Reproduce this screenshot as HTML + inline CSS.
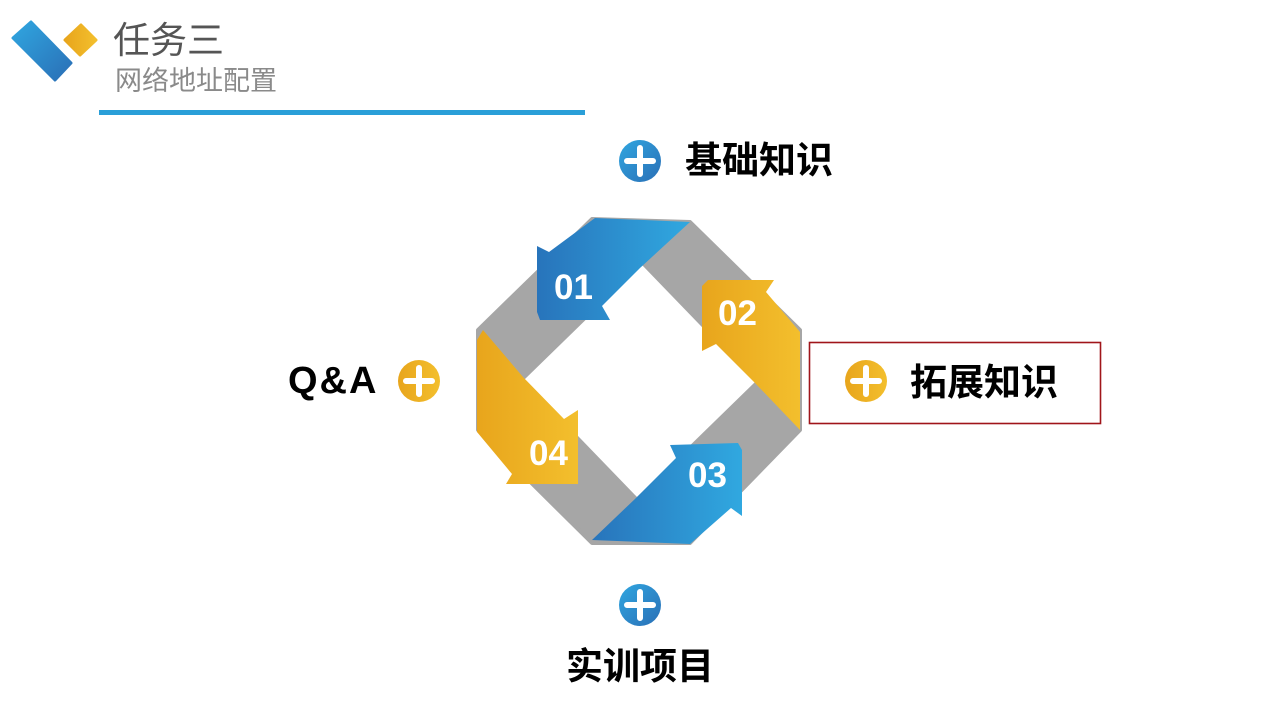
<!DOCTYPE html>
<html><head><meta charset="utf-8"><style>
body{margin:0;width:1280px;height:720px;background:#fff;overflow:hidden;position:relative;font-family:"Liberation Sans","Noto Sans CJK SC",sans-serif}
.t{position:absolute;white-space:nowrap;line-height:1}
</style></head><body>
<svg width="1280" height="720" style="position:absolute;left:0;top:0">
<defs>
<linearGradient id="b" x1="0" y1="0" x2="1" y2="0"><stop offset="0" stop-color="#2874bb"/><stop offset="1" stop-color="#30a8e0"/></linearGradient>
<linearGradient id="o" x1="0" y1="0" x2="1" y2="0"><stop offset="0" stop-color="#e8a51c"/><stop offset="1" stop-color="#f3bf2d"/></linearGradient>
<linearGradient id="bb" x1="0" y1="0" x2="1" y2="1"><stop offset="0" stop-color="#30a6e0"/><stop offset="1" stop-color="#2a6fb6"/></linearGradient>
</defs>
<polygon points="31,22 71,63 55,80 13,38" fill="url(#bb)" stroke="url(#bb)" stroke-width="3" stroke-linejoin="round"/>
<polygon points="81,25 96,40 80,55 65,40" fill="url(#o)" stroke="url(#o)" stroke-width="3" stroke-linejoin="round"/>
<rect x="99" y="110" width="486" height="5" fill="#2a9fd8"/>
<polygon points="592,219 690,222 800,330 800,430 690,543 592,543 478,430 478,330" fill="#a6a6a6" stroke="#a6a6a6" stroke-width="4" stroke-linejoin="round"/>
<polygon points="642,265 755,382 637,497 524,380" fill="#fff"/>
<polygon points="595,218 690,222 640,268 602,306 610,320 540,320 537,312 537,246 549,252" fill="url(#b)"/>
<polygon points="800,332 800,430 755,383 716,344 702,351 702,286 708,280 774,280 766,292" fill="url(#o)"/>
<polygon points="690,544 592,540 637,497 676,458 670,445 738,443 742,450 742,516 731,508" fill="url(#b)"/>
<polygon points="483,330 523,377 564,419 578,410 578,484 506,484 512,474 477,432 477,340" fill="url(#o)"/>
<g fill="#fff" font-family="Liberation Sans" font-weight="bold" font-size="35">
<text x="554" y="299">01</text><text x="718" y="325">02</text><text x="688" y="487">03</text><text x="529" y="465">04</text>
</g>
<g>
<circle cx="640" cy="161" r="21" fill="url(#bb)"/><path d="M627 161H653M640 148V174" stroke="#fff" stroke-width="6" stroke-linecap="round"/>
<circle cx="866" cy="381" r="21" fill="url(#o)"/><path d="M853 381H879M866 368V394" stroke="#fff" stroke-width="6" stroke-linecap="round"/>
<circle cx="419" cy="381" r="21" fill="url(#o)"/><path d="M406 381H432M419 368V394" stroke="#fff" stroke-width="6" stroke-linecap="round"/>
<circle cx="640" cy="605" r="21" fill="url(#bb)"/><path d="M627 605H653M640 592V618" stroke="#fff" stroke-width="6" stroke-linecap="round"/>
</g>
<rect x="809.5" y="342.5" width="291" height="81" fill="none" stroke="#a0151a" stroke-width="1.6"/>
</svg>
<div class="t" style="left:113px;top:22px;font-size:37px;color:#555">任务三</div>
<div class="t" style="left:115px;top:68px;font-size:27px;color:#8a8a8a">网络地址配置</div>
<div class="t" style="left:685px;top:142px;font-size:37px;font-weight:bold;color:#000">基础知识</div>
<div class="t" style="left:910px;top:364px;font-size:37px;font-weight:bold;color:#000">拓展知识</div>
<div class="t" style="left:288px;top:362px;font-size:38px;font-weight:bold;color:#000;letter-spacing:2px">Q&amp;A</div>
<div class="t" style="left:566px;top:648px;font-size:37px;font-weight:bold;color:#000">实训项目</div>
</body></html>
